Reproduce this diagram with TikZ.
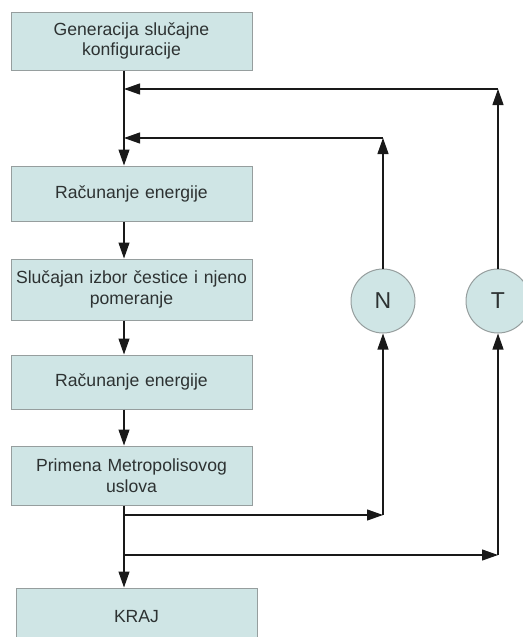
\documentclass[tikz,border=0pt]{standalone}
\usepackage{fontspec}
\setmainfont{Liberation Sans}
\usetikzlibrary{arrows.meta,positioning,calc}
\definecolor{boxfill}{RGB}{207,229,229}
\definecolor{boxline}{RGB}{150,158,158}
\definecolor{txtgray}{RGB}{45,50,50}
\tikzset{
  stepbox/.style={rectangle,draw=boxline,fill=boxfill,line width=1pt,text=txtgray,align=center,
    font=\fontsize{17.6}{20.5}\selectfont,minimum width=241pt,minimum height=57pt,inner sep=0pt,text width=232pt},
  loopnode/.style={circle,draw=boxline,fill=boxfill,line width=1pt,text=txtgray,
    font=\fontsize{23}{26}\selectfont,minimum size=64pt,inner sep=0pt},
  arr/.style={-{Triangle[length=16pt,width=11pt]},line width=1.2pt,color=black!90}
}

\begin{document}
\begin{tikzpicture}[x=1pt,y=-1pt,node distance=36pt]
  \useasboundingbox (0,0) rectangle (522,637);
  \node[stepbox,minimum height=58pt] (gen) at (131.5,41) {Generacija slučajne\\konfiguracije};
  \node[stepbox,minimum height=55pt,below=95pt of gen] (en1) {Računanje energije};
  \node[stepbox,minimum height=61pt,below=37pt of en1] (move) {Slučajan izbor čestice i njeno\\pomeranje};
  \node[stepbox,minimum height=54pt,below=34pt of move] (en2) {Računanje energije};
  \node[stepbox,minimum height=59pt,below=36pt of en2] (metro) {Primena Metropolisovog\\uslova};
  \node[stepbox,below=82pt of metro,xshift=5pt] (kraj) {KRAJ};
  \node[loopnode] (N) at (383,301) {N};
  \node[loopnode] (T) at (498,301) {T};

  \coordinate (spine) at (124,0);
  \coordinate (tjoin) at (124,89);
  \coordinate (njoin) at (124,138);
  \coordinate (nsplit) at (124,515);
  \coordinate (tsplit) at (124,555);

  \draw[arr] (gen.south -| spine) -- (en1.north -| spine);
  \draw[arr] (en1.south -| spine) -- (move.north -| spine);
  \draw[arr] (move.south -| spine) -- (en2.north -| spine);
  \draw[arr] (en2.south -| spine) -- (metro.north -| spine);
  \draw[arr] (metro.south -| spine) -- (kraj.north -| spine);
  \draw[arr] (nsplit) -- (nsplit -| N);
  \draw[arr] (nsplit -| N) -- (N.south);
  \draw[arr] (tsplit) -- (tsplit -| T);
  \draw[arr] (tsplit -| T) -- (T.south);
  \draw[arr] (N.north) -- (N.north |- njoin);
  \draw[arr] (N.north |- njoin) -- (njoin);
  \draw[arr] (T.north) -- (T.north |- tjoin);
  \draw[arr] (T.north |- tjoin) -- (tjoin);
\end{tikzpicture}
\end{document}
